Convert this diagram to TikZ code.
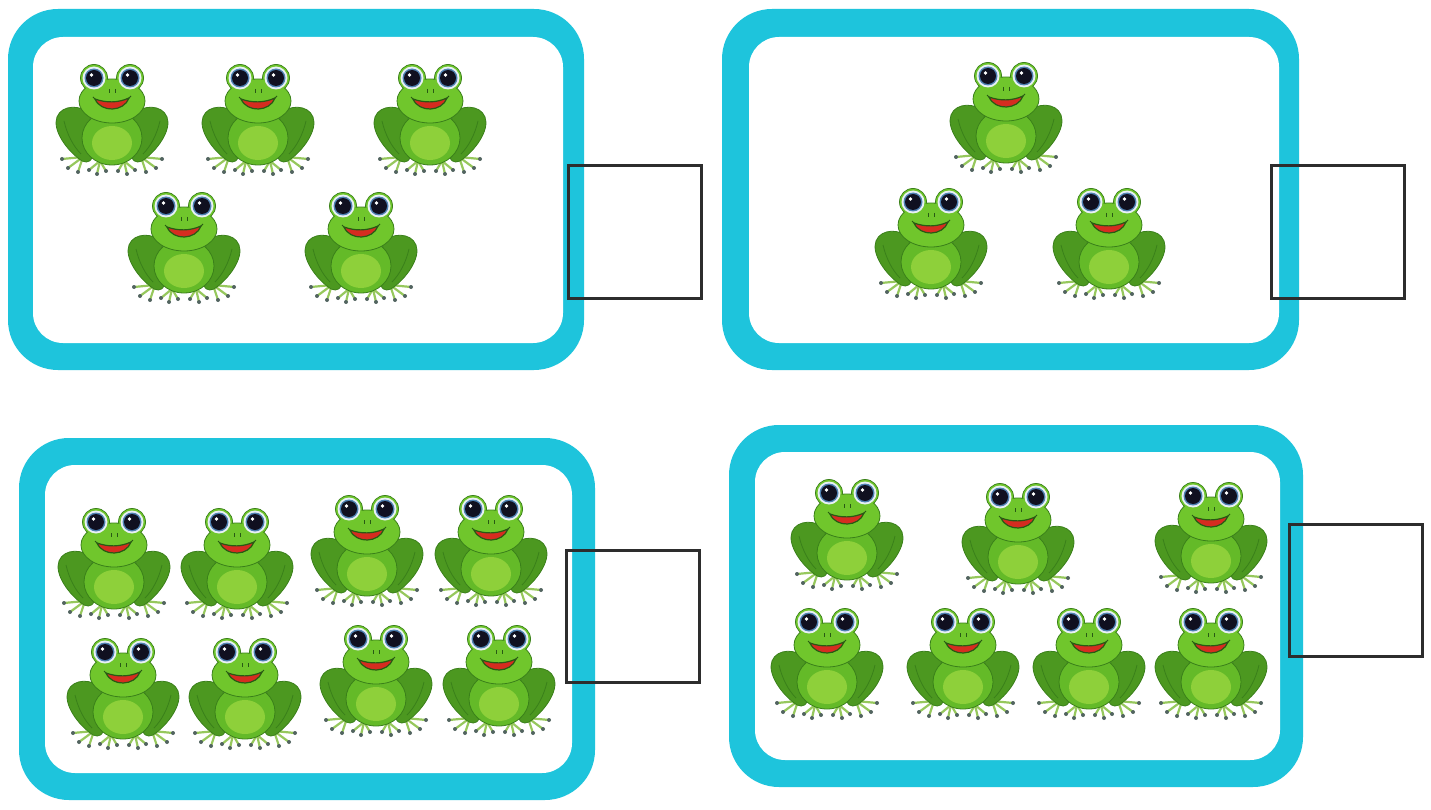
\documentclass[tikz,border=0pt]{standalone}
\definecolor{panelcyan}{RGB}{30,196,220}
\definecolor{boxgray}{RGB}{45,45,45}
\definecolor{frogmain}{RGB}{100,186,40}
\definecolor{froghead}{RGB}{112,198,44}
\definecolor{frogline}{RGB}{58,128,26}
\definecolor{froghaunch}{RGB}{76,152,32}
\definecolor{frogbelly}{RGB}{142,208,58}
\definecolor{frogtoe}{RGB}{150,200,92}
\definecolor{frogdot}{RGB}{82,100,96}
\definecolor{eyewhite}{RGB}{232,240,246}
\definecolor{eyeiris}{RGB}{78,128,178}
\definecolor{eyepupil}{RGB}{16,16,32}
\definecolor{mouthred}{RGB}{214,44,32}
\definecolor{mouthline}{RGB}{40,90,20}
\tikzset{
  toeline/.style={draw=frogtoe, line width=2.2pt, line cap=round},
  toedot/.style={fill=frogdot},
  haunchshape/.style={fill=froghaunch, draw=frogline, line width=0.8pt},
  creaseline/.style={draw=frogline, line width=0.8pt},
  bodyshape/.style={fill=frogmain, draw=frogline, line width=0.8pt},
  headshape/.style={fill=froghead, draw=frogline, line width=0.8pt},
  ansbox/.style={draw=boxgray, line width=3pt, rectangle, inner sep=0pt, minimum width=133pt, minimum height=132pt},
  frog/.pic={
    \foreach \s in {-1,1}{
      \begin{scope}[xscale=\s]
        \foreach \tx/\ty in {-50/95,-44/104,-34/108}{
          \draw[toeline] (-29,93) -- (\tx,\ty);
          \fill[toedot] (\tx,\ty) circle (2pt);
        }
        \foreach \tx/\ty in {-23/106,-15/110,-6/107}{
          \draw[toeline] (-12,97) -- (\tx,\ty);
          \fill[toedot] (\tx,\ty) circle (2pt);
        }
        \path[haunchshape] (-22,50) .. controls (-30,41) and (-50,40) .. (-55,53)
           .. controls (-60,66) and (-45,87) .. (-30,97)
           .. controls (-24,100) and (-19,96) .. (-19,90) -- cycle;
        \draw[creaseline] (-48,57) .. controls (-45,70) and (-39,82) .. (-31,90);
        \draw[draw=frogtoe, line width=6pt, line cap=round] (-16,86) -- (-12,97);
      \end{scope}
    }
    \path[bodyshape] (0,74) ellipse [x radius=30pt, y radius=27pt];
    \fill[frogbelly] (0,79) ellipse [x radius=20pt, y radius=17pt];
    \path[headshape] (-18,14) circle (13.5pt) (18,14) circle (13.5pt);
    \path[headshape] (0,37) ellipse [x radius=33pt, y radius=22pt];
    \fill[froghead] (-18,14) circle (12.9pt) (18,14) circle (12.9pt);
    \foreach \s in {-1,1}{
      \fill[eyewhite] (18*\s,14) circle (11.5pt);
      \fill[eyeiris] (18*\s,14) circle (9.5pt);
      \fill[eyepupil] (18*\s,14) circle (8pt);
      \fill[white] (18*\s-2.5,11) circle (1.8pt);
      \draw[mouthline, line width=0.6pt] (3*\s,25) -- (3*\s,29);
    }
    \path[fill=mouthred, draw=mouthline, line width=1.2pt]
       (-17,35) .. controls (-6,39) and (6,39) .. (17,34)
       .. controls (12,48) and (-11,49) .. (-17,35) -- cycle;
    \draw[mouthline, line width=1pt] (-19,33) -- (-16,36) (19,32) -- (16,35);
  }
}
\begin{document}
\begin{tikzpicture}[x=1pt, y=-1pt]
\useasboundingbox (0,0) rectangle (1431,810);
\fill[white] (0,0) rectangle (1431,810);
% panels
\fill[panelcyan, rounded corners=50pt] (8,9) rectangle (584,370);
\fill[white, rounded corners=30pt] (33,37) rectangle (563,343);
\fill[panelcyan, rounded corners=50pt] (722,9) rectangle (1299,370);
\fill[white, rounded corners=30pt] (749,37) rectangle (1279,343);
\fill[panelcyan, rounded corners=50pt] (19,438) rectangle (595,800);
\fill[white, rounded corners=30pt] (45,465) rectangle (572,773);
\fill[panelcyan, rounded corners=50pt] (729,425) rectangle (1303,787);
\fill[white, rounded corners=30pt] (755,452) rectangle (1280,760);
% frogs panel 1
\foreach \fx/\fy in {112/64,258/64,430/64,184/192,361/192}{ \pic at (\fx,\fy) {frog}; }
% frogs panel 2
\foreach \fx/\fy in {1006/62,931/188,1109/188}{ \pic at (\fx,\fy) {frog}; }
% frogs panel 3
\foreach \fx/\fy in {114/508,237/508,367/495,491/495,123/638,245/638,376/625,499/625}{ \pic at (\fx,\fy) {frog}; }
% frogs panel 4
\foreach \fx/\fy in {847/479,1018/483,1211/482,827/608,963/608,1089/608,1211/608}{ \pic at (\fx,\fy) {frog}; }
% answer boxes
\node[ansbox] (box1) at (635,232) {};
\node[ansbox] (box2) at (1337.5,232) {};
\node[ansbox] (box3) at (632.5,616.5) {};
\node[ansbox] (box4) at (1355.5,590) {};
\end{tikzpicture}
\end{document}
